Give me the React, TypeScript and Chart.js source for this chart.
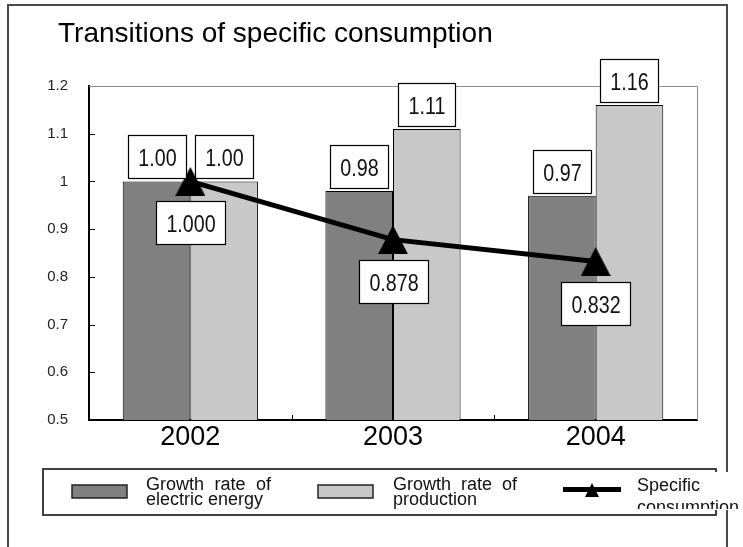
import React, { useEffect, useRef } from 'react';
import { Chart, registerables } from 'chart.js';

Chart.register(...registerables);

// ---- data ----
const years = ['2002', '2003', '2004'];
const electricGrowth = [1.0, 0.98, 0.97];
const productionGrowth = [1.0, 1.11, 1.16];
const specificConsumption = [1.0, 0.878, 0.832];
const yTickLabels = ['0.5', '0.6', '0.7', '0.8', '0.9', '1', '1.1', '1.2'];
const chartTitle = 'Transitions of specific consumption';
const seriesNames = [
  ['Growth rate of', 'electric energy'],
  ['Growth rate of', 'production'],
  ['Specific', 'consumption'],
];

const SANS = '"Liberation Sans", Arial, Helvetica, sans-serif';
const DARK = '#808080';
const LIGHT = '#c8c8c8';

function makeTriangle(w: number, h: number) {
  const c = document.createElement('canvas');
  c.width = w;
  c.height = h;
  const g = c.getContext('2d')!;
  g.fillStyle = '#000';
  g.beginPath();
  g.moveTo(w / 2, 0);
  g.lineTo(w, h);
  g.lineTo(0, h);
  g.closePath();
  g.fill();
  return c;
}

// condensed value text inside a boxed label
function boxedLabel(
  ctx: CanvasRenderingContext2D,
  text: string,
  cx: number,
  top: number,
) {
  const squeeze = 0.82;
  ctx.save();
  ctx.font = `24px ${SANS}`;
  const tw = ctx.measureText(text).width * squeeze;
  const w = Math.round(tw + 20);
  const h = 43;
  const x = Math.round(cx - w / 2);
  const y = Math.round(top);
  ctx.fillStyle = '#fff';
  ctx.fillRect(x, y, w, h);
  ctx.strokeStyle = '#000';
  ctx.lineWidth = 1.2;
  ctx.strokeRect(x + 0.5, y + 0.5, w, h);
  ctx.fillStyle = '#111';
  ctx.textAlign = 'center';
  ctx.textBaseline = 'alphabetic';
  ctx.translate(x + w / 2 + 0.5, y + h / 2 + 9);
  ctx.scale(squeeze, 1);
  ctx.fillText(text, 0, 0);
  ctx.restore();
}

function justified(
  ctx: CanvasRenderingContext2D,
  text: string,
  x: number,
  y: number,
  width: number,
) {
  const words = text.split(' ');
  if (words.length < 2) {
    ctx.fillText(text, x, y);
    return;
  }
  const total = words.reduce((s, w) => s + ctx.measureText(w).width, 0);
  const gap = (width - total) / (words.length - 1);
  let px = x;
  for (const w of words) {
    ctx.fillText(w, px, y);
    px += ctx.measureText(w).width + gap;
  }
}

const decor = {
  id: 'decor',
  beforeDatasetsDraw(chart: any) {
    const { ctx, chartArea: a, scales } = chart;
    ctx.save();
    // light frame on top and right of the plot
    ctx.strokeStyle = '#8a8a8a';
    ctx.lineWidth = 1;
    ctx.beginPath();
    ctx.moveTo(a.left, Math.round(a.top) + 0.5);
    ctx.lineTo(Math.round(a.right) + 0.5, Math.round(a.top) + 0.5);
    ctx.lineTo(Math.round(a.right) + 0.5, a.bottom);
    ctx.stroke();
    // inward tick marks
    ctx.strokeStyle = '#000';
    ctx.beginPath();
    for (let v = 0.6; v < 1.15; v += 0.1) {
      const py = Math.round(scales.y.getPixelForValue(v)) + 0.5;
      ctx.moveTo(a.left, py);
      ctx.lineTo(a.left + 6, py);
    }
    const step = (a.right - a.left) / years.length;
    for (let i = 1; i < years.length; i++) {
      const px = Math.round(a.left + step * i) + 0.5;
      ctx.moveTo(px, a.bottom);
      ctx.lineTo(px, a.bottom - 5);
    }
    ctx.stroke();
    ctx.restore();
  },
  afterDatasetsDraw(chart: any) {
    const { ctx } = chart;
    [0, 1].forEach((di) => {
      const meta = chart.getDatasetMeta(di);
      const vals = di === 0 ? electricGrowth : productionGrowth;
      meta.data.forEach((bar: any, i: number) => {
        boxedLabel(ctx, vals[i].toFixed(2), bar.x, bar.y - 3 - 43);
      });
    });
    const lineMeta = chart.getDatasetMeta(2);
    lineMeta.data.forEach((pt: any, i: number) => {
      boxedLabel(ctx, specificConsumption[i].toFixed(3), pt.x, pt.y + 20);
    });
  },
  afterDraw(chart: any) {
    const { ctx } = chart;
    ctx.save();
    // outer frame
    ctx.strokeStyle = '#4a4a4a';
    ctx.lineWidth = 2;
    ctx.strokeRect(8, 5, 719, 600);

    // title
    ctx.fillStyle = '#000';
    ctx.font = `28px ${SANS}`;
    ctx.textAlign = 'left';
    ctx.textBaseline = 'alphabetic';
    ctx.fillText(chartTitle, 58, 42);

    // legend box
    ctx.strokeStyle = '#404040';
    ctx.lineWidth = 2;
    ctx.strokeRect(43, 469, 673, 46);

    // swatches
    const swatch = (x: number, color: string) => {
      ctx.fillStyle = color;
      ctx.fillRect(x, 485, 55, 13);
      ctx.strokeStyle = '#222';
      ctx.lineWidth = 1.5;
      ctx.strokeRect(x, 485, 55, 13);
    };
    swatch(72, DARK);
    swatch(318, LIGHT);
    ctx.strokeStyle = '#000';
    ctx.lineWidth = 5;
    ctx.beginPath();
    ctx.moveTo(563, 489.5);
    ctx.lineTo(621, 489.5);
    ctx.stroke();
    ctx.fillStyle = '#000';
    ctx.beginPath();
    ctx.moveTo(592, 483);
    ctx.lineTo(599, 497);
    ctx.lineTo(585, 497);
    ctx.closePath();
    ctx.fill();

    ctx.font = `18px ${SANS}`;
    ctx.fillStyle = '#111';
    justified(ctx, seriesNames[0][0], 146, 490, 125);
    ctx.fillText(seriesNames[0][1], 146, 505);
    justified(ctx, seriesNames[1][0], 393, 490, 124);
    ctx.fillText(seriesNames[1][1], 393, 505);

    // third entry sits in its own white cell over the frame edges
    ctx.fillStyle = '#fff';
    ctx.fillRect(632, 472, 111, 38);
    ctx.beginPath();
    ctx.rect(632, 472, 111, 37);
    ctx.clip();
    ctx.fillStyle = '#111';
    ctx.fillText(seriesNames[2][0], 637, 491);
    ctx.fillText(seriesNames[2][1], 637, 513);
    ctx.restore();
  },
};

export default function App() {
  const ref = useRef<HTMLCanvasElement | null>(null);

  useEffect(() => {
    if (!ref.current) return;
    const tri = makeTriangle(30, 29);
    const chart = new Chart(ref.current, {
      type: 'bar',
      data: {
        labels: years,
        datasets: [
          {
            type: 'bar',
            label: 'Growth rate of electric energy',
            data: electricGrowth,
            backgroundColor: DARK,
            borderColor: '#000',
            borderWidth: 1,
            order: 1,
          },
          {
            type: 'bar',
            label: 'Growth rate of production',
            data: productionGrowth,
            backgroundColor: LIGHT,
            borderColor: '#000',
            borderWidth: 1,
            order: 1,
          },
          {
            type: 'line',
            label: 'Specific consumption',
            data: specificConsumption,
            borderColor: '#000',
            backgroundColor: '#000',
            borderWidth: 5,
            pointStyle: tri as any,
            pointRadius: 14,
            tension: 0,
            order: 0,
          } as any,
        ],
      },
      options: {
        responsive: false,
        animation: false,
        devicePixelRatio: 1,
        layout: { padding: { left: 0, top: 86, right: 46, bottom: 87 } },
        datasets: {
          bar: { categoryPercentage: 0.667, barPercentage: 1.0 },
        },
        plugins: {
          legend: { display: false },
          title: { display: false },
          tooltip: { enabled: false },
        },
        scales: {
          x: {
            grid: { display: false, drawTicks: false },
            border: { color: '#000', width: 2 },
            ticks: {
              color: '#000',
              font: { family: SANS, size: 27 },
              padding: 1,
              maxRotation: 0,
            },
            afterFit: (s: any) => {
              s.height = 40;
            },
          },
          y: {
            min: 0.5,
            max: 1.2,
            grid: { display: false, drawTicks: false },
            border: { color: '#000', width: 2 },
            ticks: {
              stepSize: 0.1,
              color: '#222',
              padding: 21,
              font: { family: SANS, size: 15 },
              callback: (v: any) =>
                yTickLabels.find((t) => Math.abs(parseFloat(t) - Number(v)) < 1e-6) ?? '',
            },
            afterFit: (s: any) => {
              s.width = 89;
            },
          },
        },
      },
      plugins: [decor],
    });
    return () => chart.destroy();
  }, []);

  return (
    <div style={{ position: 'fixed', left: 0, top: 0, width: 743, height: 547, background: '#fff' }}>
      <canvas ref={ref} width={743} height={547} style={{ display: 'block' }} />
    </div>
  );
}
